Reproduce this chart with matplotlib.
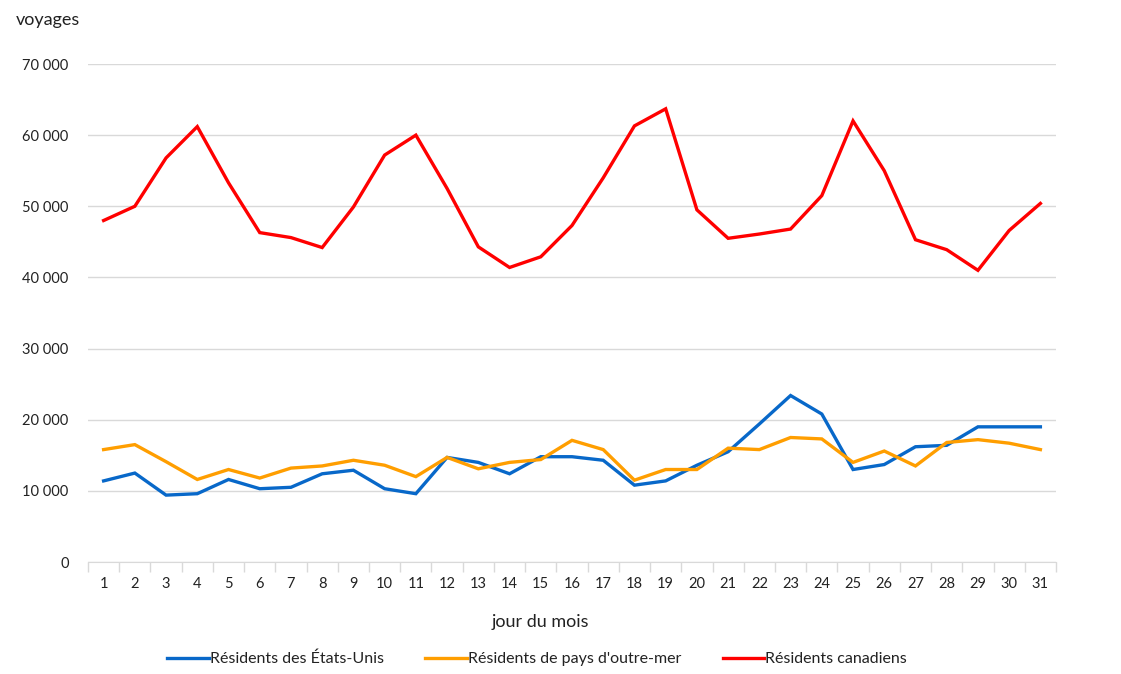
import matplotlib
matplotlib.use("Agg")
import matplotlib.pyplot as plt
from matplotlib.ticker import FuncFormatter, FixedLocator

days = list(range(1, 32))
us = [11.4, 12.5, 9.4, 9.6, 11.6, 10.3, 10.5, 12.4, 12.9, 10.3, 9.6,
      14.7, 14.0, 12.4, 14.8, 14.8, 14.3, 10.8, 11.4, 13.6, 15.5,
      19.4, 23.4, 20.8, 13.0, 13.7, 16.2, 16.4, 19.0, 19.0, 19.0]
overseas = [15.8, 16.5, 14.1, 11.6, 13.0, 11.8, 13.2, 13.5, 14.3, 13.6, 12.0,
            14.7, 13.1, 14.0, 14.4, 17.1, 15.8, 11.5, 13.0, 13.0, 16.0,
            15.8, 17.5, 17.3, 14.0, 15.6, 13.5, 16.8, 17.2, 16.7, 15.8]
canada = [48.0, 50.0, 56.8, 61.2, 53.3, 46.3, 45.6, 44.2, 49.9, 57.2, 60.0,
          52.5, 44.3, 41.4, 42.9, 47.3, 54.0, 61.3, 63.7, 49.5, 45.5,
          46.1, 46.8, 51.5, 62.0, 55.0, 45.3, 43.9, 41.0, 46.6, 50.4]
us = [v * 1000 for v in us]
overseas = [v * 1000 for v in overseas]
canada = [v * 1000 for v in canada]

labels = ["Résidents des États-Unis", "Résidents de pays d'outre-mer", "Résidents canadiens"]
colors = ["#0868C9", "#FF9E00", "#FF0000"]

plt.rcParams['font.family'] = ['Lato', 'DejaVu Sans']
fig = plt.figure(figsize=(11.21, 6.74), dpi=100)
ax = fig.add_axes([88 / 1121, 1 - 562 / 674, (1056 - 88) / 1121, (562 - 64) / 674])

for series, lab, col in zip([us, overseas, canada], labels, colors):
    ax.plot(days, series, color=col, lw=2.4, label=lab, solid_joinstyle='miter')

ax.set_xlim(0.5, 31.5)
ax.set_ylim(0, 70000)
ax.set_yticks(range(0, 70001, 10000))
ax.yaxis.set_major_formatter(FuncFormatter(lambda v, p: f"{int(v):,}".replace(",", " ")))
ax.grid(axis='y', color='#d9d9d9', lw=1)
ax.set_axisbelow(True)

ax.xaxis.set_major_locator(FixedLocator([d + 0.5 for d in range(0, 32)]))
ax.xaxis.set_minor_locator(FixedLocator(days))
ax.set_xticklabels([])
ax.set_xticklabels([str(d) for d in days], minor=True)
ax.tick_params(axis='x', which='major', length=7, color='#d9d9d9', width=1)
ax.tick_params(axis='x', which='minor', length=0, pad=11, labelsize=10.5, labelcolor='#222222')
ax.tick_params(axis='y', length=0, pad=14, labelsize=10.5, labelcolor='#222222')

for s in ['top', 'right', 'left']:
    ax.spines[s].set_visible(False)
ax.spines['bottom'].set_color('#d9d9d9')

fig.text(16 / 1121, 1 - 20 / 674, "voyages", fontsize=13, color='#222222', va='center', ha='left')
fig.text(540 / 1121, 1 - 622 / 674, "jour du mois", fontsize=13, color='#222222', va='center', ha='center')

leg = fig.legend(loc='center', bbox_to_anchor=(537 / 1121, 1 - 659 / 674), ncol=3, frameon=False,
                 fontsize=11.5, handlelength=2.6, handletextpad=0.05, columnspacing=2.6)
for t in leg.get_texts():
    t.set_color('#222222')

fig.savefig("out.png", dpi=100)
